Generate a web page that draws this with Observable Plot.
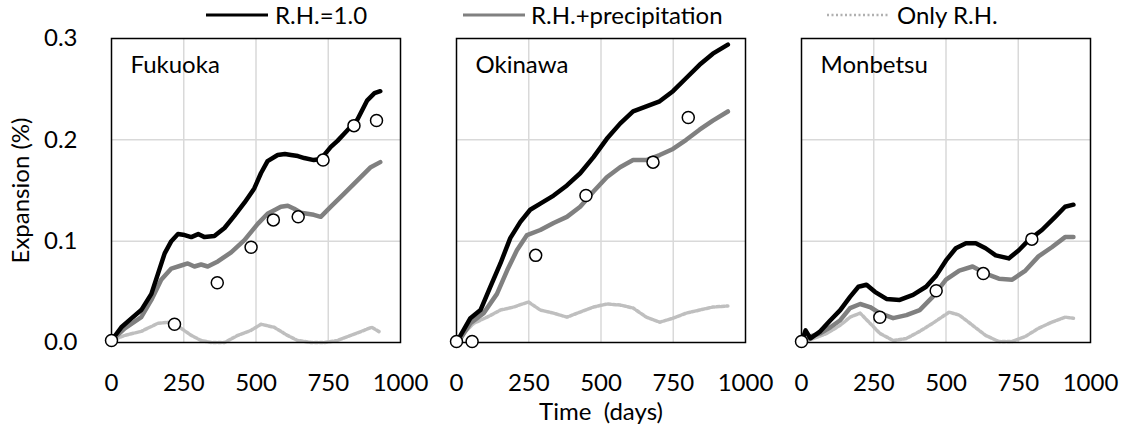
<!DOCTYPE html>
<html>
<head>
<meta charset="utf-8">
<script src="https://cdn.jsdelivr.net/npm/d3@7"></script>
<script src="https://cdn.jsdelivr.net/npm/@observablehq/plot@0.6"></script>
<style>
  body { margin: 0; background: white; font-family: Lato, sans-serif; }
  #legend { position: relative; width: 1122px; height: 30px; font-size: 24px; color: #000; }
  #legend .item { position: absolute; top: 0; height: 30px; line-height: 30px; white-space: nowrap; }
  #legend svg { position: absolute; top: 0; }
</style>
</head>
<body>
<div id="legend"></div>
<div id="chart"></div>
<script>
// ---- categories & ticks ----
const stations = ["Fukuoka", "Okinawa", "Monbetsu"];
const seriesNames = ["R.H.=1.0", "R.H.+precipitation", "Only R.H."];
const xTicks = [0, 250, 500, 750, 1000];
const yTicks = [0, 0.1, 0.2, 0.3];

// ---- Fukuoka ----
const fukuokaRH1Day = [0, 34, 70, 103, 138, 161, 184, 207, 230, 253, 276, 300, 322, 356, 391, 425, 460, 494, 517, 540, 575, 600, 621, 645, 667, 700, 724, 759, 782, 805, 851, 885, 910, 930];
const fukuokaRH1 = [0.002, 0.015, 0.024, 0.032, 0.048, 0.068, 0.088, 0.100, 0.107, 0.106, 0.104, 0.107, 0.104, 0.105, 0.113, 0.125, 0.138, 0.152, 0.167, 0.179, 0.185, 0.186, 0.185, 0.184, 0.182, 0.180, 0.181, 0.193, 0.199, 0.206, 0.220, 0.239, 0.246, 0.248];
const fukuokaPrecDay = [0, 46, 103, 138, 172, 207, 241, 264, 287, 310, 333, 368, 414, 460, 506, 540, 586, 610, 632, 655, 678, 700, 724, 759, 805, 851, 897, 930];
const fukuokaPrec = [0.002, 0.014, 0.025, 0.042, 0.062, 0.073, 0.076, 0.078, 0.075, 0.077, 0.075, 0.080, 0.089, 0.101, 0.117, 0.127, 0.134, 0.135, 0.132, 0.128, 0.127, 0.126, 0.124, 0.134, 0.147, 0.160, 0.173, 0.178];
const fukuokaOnlyDay = [0, 46, 103, 161, 195, 241, 276, 310, 345, 391, 437, 483, 517, 563, 609, 644, 690, 736, 782, 828, 874, 900, 930];
const fukuokaOnly = [0.002, 0.007, 0.011, 0.019, 0.020, 0.014, 0.007, 0.002, 0.000, 0.000, 0.007, 0.012, 0.018, 0.015, 0.007, 0.002, 0.000, 0.000, 0.002, 0.007, 0.012, 0.015, 0.010];
const fukuokaObsDay = [0, 218, 366, 483, 560, 646, 732, 839, 917];
const fukuokaObs = [0.002, 0.018, 0.059, 0.094, 0.121, 0.124, 0.180, 0.214, 0.219];

// ---- Okinawa ----
const okinawaRH1Day = [0, 14, 48, 83, 117, 152, 186, 221, 255, 290, 336, 382, 428, 474, 520, 566, 611, 657, 703, 749, 795, 841, 887, 939];
const okinawaRH1 = [0, 0.007, 0.024, 0.032, 0.055, 0.078, 0.103, 0.119, 0.131, 0.137, 0.145, 0.155, 0.167, 0.183, 0.201, 0.216, 0.228, 0.233, 0.238, 0.248, 0.261, 0.274, 0.285, 0.294];
const okinawaPrecDay = [0, 14, 48, 94, 140, 175, 209, 244, 290, 336, 382, 428, 474, 520, 566, 611, 657, 703, 749, 795, 841, 887, 939];
const okinawaPrec = [0, 0.004, 0.019, 0.029, 0.048, 0.071, 0.091, 0.106, 0.111, 0.118, 0.124, 0.134, 0.149, 0.163, 0.173, 0.180, 0.180, 0.185, 0.191, 0.200, 0.210, 0.219, 0.228];
const okinawaOnlyDay = [0, 14, 60, 106, 152, 198, 249, 290, 336, 382, 428, 474, 520, 566, 611, 657, 703, 749, 795, 841, 887, 939];
const okinawaOnly = [0, 0.006, 0.019, 0.025, 0.032, 0.035, 0.040, 0.032, 0.029, 0.025, 0.030, 0.035, 0.038, 0.037, 0.034, 0.025, 0.020, 0.024, 0.029, 0.032, 0.035, 0.036];
const okinawaObsDay = [0, 54, 274, 448, 680, 802];
const okinawaObs = [0.001, 0.001, 0.086, 0.145, 0.178, 0.222];

// ---- Monbetsu ----
const monbetsuRH1Day = [0, 14, 31, 65, 100, 134, 168, 197, 225, 254, 294, 340, 386, 431, 466, 500, 534, 569, 603, 637, 672, 717, 752, 786, 832, 878, 912, 941];
const monbetsuRH1 = [0, 0.012, 0.004, 0.011, 0.022, 0.032, 0.045, 0.055, 0.057, 0.050, 0.043, 0.042, 0.047, 0.055, 0.066, 0.081, 0.093, 0.098, 0.098, 0.093, 0.086, 0.083, 0.091, 0.101, 0.111, 0.124, 0.134, 0.136];
const monbetsuPrecDay = [0, 31, 65, 100, 134, 168, 203, 237, 271, 317, 363, 409, 454, 500, 546, 592, 637, 683, 729, 775, 820, 866, 912, 941];
const monbetsuPrec = [0, 0.006, 0.009, 0.015, 0.022, 0.034, 0.038, 0.035, 0.029, 0.024, 0.027, 0.032, 0.045, 0.062, 0.071, 0.075, 0.068, 0.063, 0.062, 0.071, 0.085, 0.094, 0.104, 0.104];
const monbetsuOnlyDay = [0, 42, 88, 134, 168, 203, 237, 271, 317, 363, 409, 454, 511, 546, 592, 637, 683, 729, 775, 820, 866, 912, 941];
const monbetsuOnly = [0, 0.004, 0.009, 0.017, 0.025, 0.029, 0.019, 0.009, 0.002, 0.004, 0.011, 0.019, 0.030, 0.027, 0.017, 0.007, 0.001, 0.001, 0.006, 0.014, 0.020, 0.025, 0.024];
const monbetsuObsDay = [0, 271, 466, 629, 797];
const monbetsuObs = [0.001, 0.025, 0.051, 0.068, 0.102];

// ---- build tables ----
function rows(station, series, days, vals) {
  return days.map((d, i) => ({station, series, day: d, value: vals[i]}));
}
const rh1 = [
  ...rows("Fukuoka", seriesNames[0], fukuokaRH1Day, fukuokaRH1),
  ...rows("Okinawa", seriesNames[0], okinawaRH1Day, okinawaRH1),
  ...rows("Monbetsu", seriesNames[0], monbetsuRH1Day, monbetsuRH1)
];
const prec = [
  ...rows("Fukuoka", seriesNames[1], fukuokaPrecDay, fukuokaPrec),
  ...rows("Okinawa", seriesNames[1], okinawaPrecDay, okinawaPrec),
  ...rows("Monbetsu", seriesNames[1], monbetsuPrecDay, monbetsuPrec)
];
const only = [
  ...rows("Fukuoka", seriesNames[2], fukuokaOnlyDay, fukuokaOnly),
  ...rows("Okinawa", seriesNames[2], okinawaOnlyDay, okinawaOnly),
  ...rows("Monbetsu", seriesNames[2], monbetsuOnlyDay, monbetsuOnly)
];
const obs = [
  ...rows("Fukuoka", "obs", fukuokaObsDay, fukuokaObs),
  ...rows("Okinawa", "obs", okinawaObsDay, okinawaObs),
  ...rows("Monbetsu", "obs", monbetsuObsDay, monbetsuObs)
];

// ---- legend ----
const legendItems = [
  {name: seriesNames[0], color: "#000000", width: 3, dash: null, lineX: 206, textX: 275},
  {name: seriesNames[1], color: "#808080", width: 3, dash: null, lineX: 463, textX: 531},
  {name: seriesNames[2], color: "#b0b0b0", width: 2.5, dash: "2,2.5", lineX: 827, textX: 897}
];
const legend = d3.select("#legend");
legendItems.forEach(it => {
  const s = legend.append("svg").attr("width", 62).attr("height", 30).style("left", it.lineX + "px");
  const ln = s.append("line").attr("x1", 0).attr("x2", 62).attr("y1", 15).attr("y2", 15)
    .attr("stroke", it.color).attr("stroke-width", it.width);
  if (it.dash) ln.attr("stroke-dasharray", it.dash);
  legend.append("div").attr("class", "item").style("left", it.textX + "px").text(it.name);
});

// ---- chart ----
const chart = Plot.plot({
  width: 1122,
  height: 397,
  marginTop: 8,
  marginBottom: 85,
  marginLeft: 110,
  marginRight: 30,
  style: {fontFamily: "Lato, sans-serif", fontSize: "24px", color: "black", background: "white", overflow: "visible"},
  fx: {domain: stations, paddingInner: 0.1618, paddingOuter: 0, axis: null, label: null},
  x: {domain: [0, 1000], ticks: xTicks, tickFormat: d3.format("d"), tickSize: 0, tickPadding: 31, label: "Time\u00a0 (days)", labelAnchor: "center", labelOffset: 77, labelArrow: "none"},
  y: {domain: [0, 0.3], ticks: yTicks, tickFormat: d3.format(".1f"), tickSize: 0, tickPadding: 34, label: "Expansion (%)", labelAnchor: "center", labelOffset: 100, labelArrow: "none"},
  marks: [
    Plot.gridX(xTicks.slice(1, -1), {stroke: "#d9d9d9", strokeOpacity: 1, strokeWidth: 1.5}),
    Plot.gridY(yTicks.slice(1, -1), {stroke: "#d9d9d9", strokeOpacity: 1, strokeWidth: 1.5}),
    Plot.line(only, {x: "day", y: "value", fx: "station", stroke: "#bfbfbf", strokeWidth: 3.5, strokeDasharray: "3,2"}),
    Plot.line(prec, {x: "day", y: "value", fx: "station", stroke: "#808080", strokeWidth: 4.5}),
    Plot.line(rh1, {x: "day", y: "value", fx: "station", stroke: "#000000", strokeWidth: 4.5}),
    Plot.frame({stroke: "black", strokeWidth: 1.5}),
    Plot.dot(obs, {x: "day", y: "value", fx: "station", r: 6, fill: "white", stroke: "black", strokeWidth: 1.5}),
    Plot.text(stations, {fx: d => d, text: d => d, frameAnchor: "top-left", dx: 19, dy: 17, fontSize: 24})
  ]
});
document.getElementById("chart").appendChild(chart);
</script>
</body>
</html>
